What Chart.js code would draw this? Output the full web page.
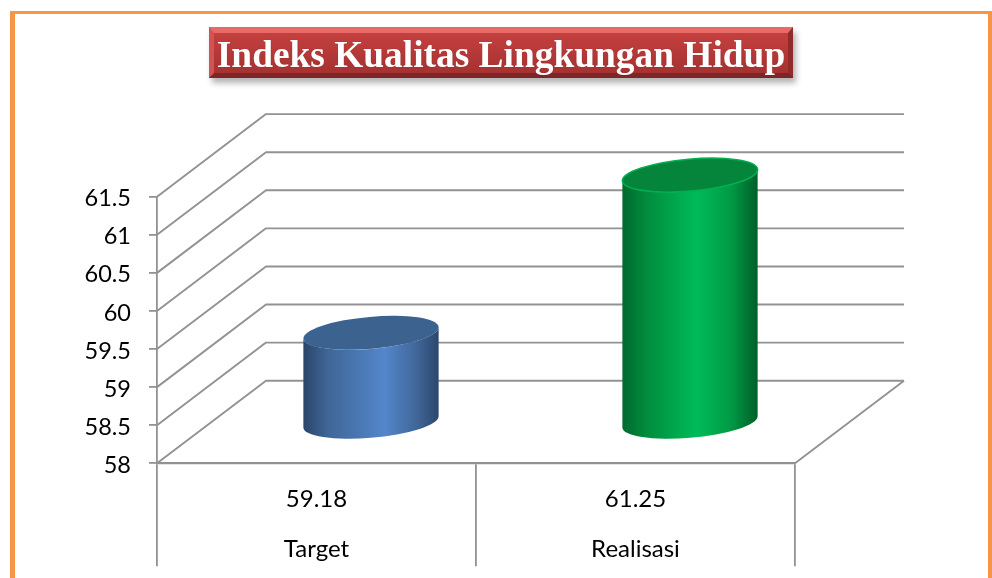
<!DOCTYPE html>
<html>
<head>
<meta charset="utf-8">
<style>
html,body{margin:0;padding:0;background:#fff;width:992px;height:578px;overflow:hidden}
#frame{position:absolute;left:10px;top:11px;width:973px;height:600px;border-left:5px solid #f79646;border-top:3px solid #f79646;border-right:4px solid #f79646}
#wrap{position:absolute;left:0;top:0;width:992px;height:578px}
#title{position:absolute;left:209px;top:27px;width:584px;height:51px;box-sizing:border-box;
 border-style:solid;border-width:6px 5px 5px 5px;border-color:#e56a68 #8f2b2b #7c2626 #d25452;
 background:linear-gradient(#c4403f,#a53231);box-shadow:3px 5px 6px rgba(0,0,0,.3);
 color:#fff;font:bold 37.4px "Liberation Serif",serif;line-height:43px;text-align:center;white-space:nowrap;
 text-shadow:0 0 1px rgba(120,20,20,.4)}
</style>
<script src="https://cdn.jsdelivr.net/npm/chart.js@4"></script>
</head>
<body>
<div id="frame"></div>
<div id="wrap"><canvas id="c" width="992" height="578"></canvas></div>
<div id="title">Indeks Kualitas Lingkungan Hidup</div>
<script>
const categories = ["Target", "Realisasi"];
const values = [59.18, 61.25];
const yMin = 58, yMax = 61.5, yStep = 0.5;
const sideStops = [
  [[0,"#2b4569"],[0.18,"#3f6697"],[0.6,"#5386ca"],[0.82,"#42699d"],[1,"#2c476c"]],
  [[0,"#006a2e"],[0.2,"#008f3f"],[0.55,"#00bb58"],[0.8,"#009a45"],[1,"#005f29"]]
];
const topFill = ["#3c638f", "#05843c"];
const edgeColor = ["rgba(120,160,215,0.0)", "#00b050"];
const lineColor = "#929292";
const depthX = 109, depthY = -82.6;      // wall depth
const barDX = 54.5, barDY = -40.6;       // cylinders stand mid-floor
const tilt = -5 * Math.PI / 180, minor = 16;

const walls = {
  id: "walls",
  beforeDatasetsDraw(chart) {
    const {ctx, chartArea: a, scales: {y}} = chart;
    ctx.save();
    ctx.strokeStyle = lineColor; ctx.lineWidth = 1.9; ctx.lineJoin = "round";
    y.ticks.forEach(t => {
      const py = y.getPixelForValue(t.value);
      ctx.beginPath();
      ctx.moveTo(a.left, py);
      ctx.lineTo(a.left + depthX, py + depthY);
      ctx.lineTo(a.right + depthX, py + depthY);
      ctx.stroke();
    });
    const b = y.getPixelForValue(yMin);
    ctx.beginPath();
    ctx.moveTo(a.right, b);
    ctx.lineTo(a.right + depthX, b + depthY);
    ctx.stroke();
    ctx.restore();
  }
};

const cylinders = {
  id: "cylinders",
  afterDatasetsDraw(chart) {
    const {ctx} = chart;
    chart.getDatasetMeta(0).data.forEach((bar, i) => {
      const cx = bar.x + barDX, topY = bar.y + barDY, botY = bar.base + barDY;
      const hw = bar.width / 2;
      const a = hw / Math.sqrt(Math.cos(tilt)**2 + (minor/hw*Math.sin(tilt))**2) ;
      const t0 = Math.atan2(-minor * Math.sin(tilt), a * Math.cos(tilt));
      const g = ctx.createLinearGradient(cx - hw, 0, cx + hw, 0);
      sideStops[i].forEach(s => g.addColorStop(s[0], s[1]));
      ctx.save();
      ctx.beginPath();
      ctx.ellipse(cx, botY, a, minor, tilt, t0, t0 + Math.PI, false);
      ctx.ellipse(cx, topY, a, minor, tilt, t0 + Math.PI, t0, true);
      ctx.closePath();
      ctx.fillStyle = g;
      ctx.fill();
      ctx.beginPath();
      ctx.ellipse(cx, topY, a, minor, tilt, 0, Math.PI * 2);
      ctx.fillStyle = topFill[i];
      ctx.fill();
      ctx.strokeStyle = edgeColor[i];
      ctx.lineWidth = 1.5;
      ctx.stroke();
      ctx.restore();
    });
  }
};

new Chart(document.getElementById("c"), {
  type: "bar",
  data: {
    labels: categories,
    datasets: [{
      data: values,
      base: yMin,
      backgroundColor: "rgba(0,0,0,0)",
      borderWidth: 0,
      barPercentage: 0.424,
      categoryPercentage: 1
    }]
  },
  options: {
    responsive: false,
    animation: false,
    layout: {padding: {left: 0, right: 197, top: 196.7, bottom: 0}},
    plugins: {legend: {display: false}, title: {display: false}, tooltip: {enabled: false}},
    scales: {
      x: {
        afterFit(s) { s.height = 114.7; },
        border: {color: lineColor, width: 2.2},
        grid: {drawOnChartArea: false, drawTicks: true, tickLength: 103, color: lineColor, lineWidth: 1.8},
        ticks: {
          color: "#000", padding: -92, maxRotation: 0, autoSkip: false,
          font: {family: "Lato", size: 24, lineHeight: 2.08},
          callback(v, i) { return [values[i].toFixed(2), categories[i]]; }
        }
      },
      y: {
        min: yMin, max: yMax,
        afterFit(s) { s.width = 157; },
        border: {color: lineColor, width: 1.8},
        grid: {drawOnChartArea: false, drawTicks: true, tickLength: 8, color: lineColor, lineWidth: 1.8},
        ticks: {
          color: "#000", padding: 18, stepSize: yStep, labelOffset: 2,
          font: {family: "Lato", size: 23.5},
          callback(v) { return String(v); }
        }
      }
    }
  },
  plugins: [walls, cylinders]
});
</script>
</body>
</html>
